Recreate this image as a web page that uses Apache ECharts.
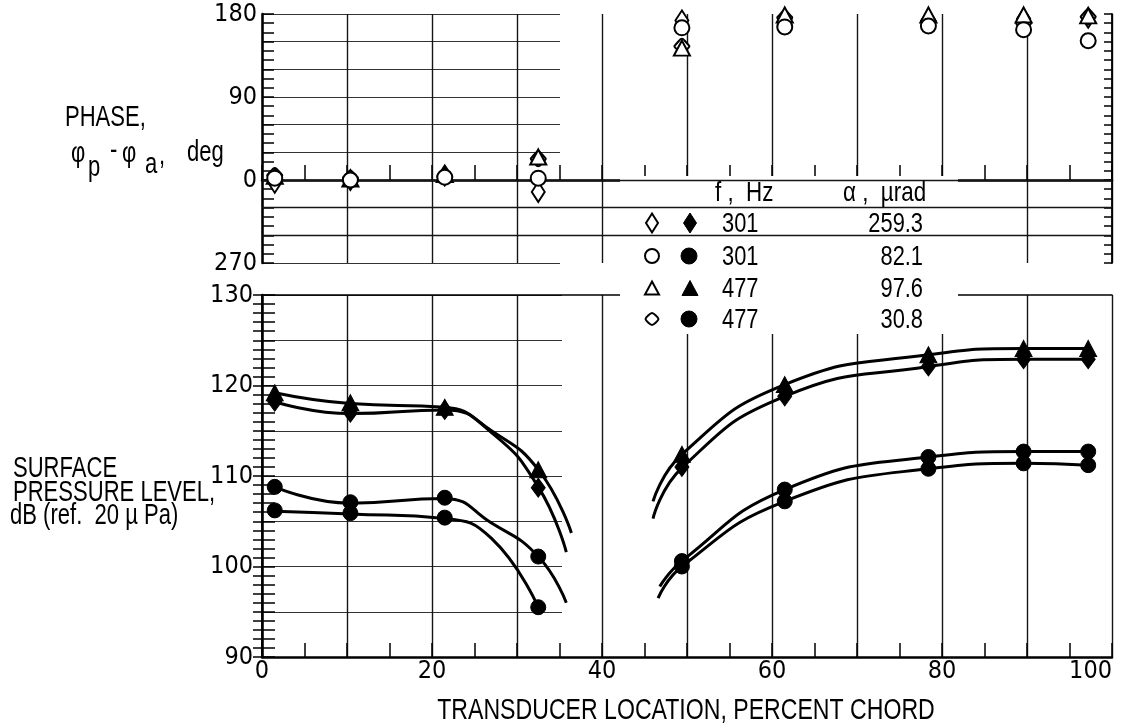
<!DOCTYPE html>
<html>
<head>
<meta charset="utf-8">
<script src="https://cdn.jsdelivr.net/npm/echarts@6/dist/echarts.min.js"></script>
<style>html,body{margin:0;padding:0;background:#fff}#c{width:1125px;height:727px}</style>
</head>
<body>
<div id="c"></div>
<script>
// ---------- data ----------
// transducer locations, percent chord
const stations = [1.5, 10.4, 21.5, 32.5, 49.4, 61.5, 78.4, 89.6, 97.2];

// phase, deg (open symbols)
const phase301a = [-3, 0, 5, -13, 173, 174, 174, 175, 176];   // 301 Hz, 259.3 urad (diamond)
const phase301b = [2, 0, 3, 2, 165, 166, 167, 163, 151];      // 301 Hz, 82.1 urad (circle)
const phase477a = [4, 1, 6, 25, 143, 179, 179, 179, 178];     // 477 Hz, 97.6 urad (triangle)
const phase477b = [5, 2, 4, 23, 145, 176, 172, 170, 177];     // 477 Hz, 30.8 urad (rounded diamond)

// surface pressure level, dB (filled symbols)
const level477a = [119.2, 118.1, 117.6, 110.7, 112.4, 120.1, 123.4, 124.1, 124.1];
const level301a = [118.2, 117.0, 117.3, 108.7, 111.0, 118.8, 122.1, 122.9, 122.9];
const level301b = [108.8, 107.1, 107.6, 101.1, 100.6, 108.5, 112.1, 112.7, 112.7];
const level477b = [106.2, 105.9, 105.4, 95.5, 100.0, 107.2, 110.8, 111.4, 111.2];

// faired curves
const fit477aLeft = [[1.5,119.2],[10.4,118.0],[21.5,117.6],[27,115.0],[32.5,110.7],[36.4,103.7]];
const fit301aLeft = [[1.5,118.2],[10.4,116.9],[21.5,117.3],[27,114.8],[32.5,108.8],[35.8,101.6]];
const fit301bLeft = [[1.5,108.8],[10.4,107.0],[21.5,107.5],[27,104.8],[32.5,101.1],[35.8,96.0]];
const fit477bLeft = [[1.5,106.1],[10.4,105.8],[21.5,105.3],[27,103.1],[32.5,95.5]];
const fit477aRight = [[46.0,107.2],[49.4,112.4],[61.5,120.1],[78.4,123.4],[89.6,124.1],[97.2,124.1]];
const fit301aRight = [[46.0,105.3],[49.4,110.9],[61.5,118.8],[78.4,122.1],[89.6,122.9],[97.2,122.9]];
const fit301bRight = [[46.8,97.8],[49.4,100.6],[61.5,108.5],[78.4,112.1],[89.6,112.7],[97.2,112.7]];
const fit477bRight = [[46.6,96.5],[49.4,100.0],[61.5,107.2],[78.4,110.8],[89.6,111.4],[97.2,111.2]];

// legend table
const legendFreq = ['301', '301', '477', '477'];
const legendAlpha = ['259.3', '82.1', '97.6', '30.8'];

// axis tick labels
const phaseLabelMap = {'-90': '270', '0': '0', '90': '90', '180': '180'};
const phaseFullLines = [0, -30, -60];

// ---------- chart ----------
const FONT = "'Liberation Sans Narrow','DejaVu Sans Condensed',sans-serif";
const TFONT = "'Liberation Sans',Arial,sans-serif";
const zip = (xs, ys) => xs.map((x, i) => [x, ys[i]]);
const ROUND_DIAMOND = 'path://M10,0C11.5,0 12.5,1 13.5,2.3L18.8,8.2C20.4,9.6 20.4,10.4 18.8,11.8L13.5,17.7C12.5,19 11.5,20 10,20C8.5,20 7.5,19 6.5,17.7L1.2,11.8C-0.4,10.4 -0.4,9.6 1.2,8.2L6.5,2.3C7.5,1 8.5,0 10,0Z';
const OPEN = {color: '#fff', borderColor: '#000', borderWidth: 2, opacity: 1};
const FILLED = {color: '#000', borderColor: '#000', borderWidth: 1, opacity: 1};
const GRID_C = '#151515';

const L = 262, R = 13;
const chart = echarts.init(document.getElementById('c'), null, {renderer: 'canvas'});

function scatter(name, xi, yi, data, symbol, size, style, z) {
  return {type: 'scatter', name, xAxisIndex: xi, yAxisIndex: yi, data, symbol, symbolSize: size,
          itemStyle: style, clip: false, z: z, silent: true};
}
function curve(data) {
  return {type: 'line', xAxisIndex: 1, yAxisIndex: 2, data, showSymbol: false, symbol: 'none',
          smooth: 0.5, lineStyle: {color: '#000', width: 3, opacity: 1}, z: 3, silent: true};
}

const axisLbl = {color: '#000', fontFamily: FONT, fontSize: 25};

const option = {
  animation: false,
  backgroundColor: '#fff',
  grid: [
    {left: L, right: R, top: 14, height: 249, outerBoundsMode: 'none'},
    {left: L, right: R, top: 295, height: 362, outerBoundsMode: 'none'},
    {left: L, width: 298, top: 14, height: 249, outerBoundsMode: 'none'},
    {left: L, width: 300, top: 295, height: 362, outerBoundsMode: 'none'}
  ],
  xAxis: [
    {gridIndex: 0, type: 'value', min: 0, max: 100, interval: 10, position: 'bottom',
     axisLine: {show: true, lineStyle: {color: '#000', width: 2.5}},
     axisTick: {show: true, inside: true, length: 15, lineStyle: {color: '#000', width: 1.5}},
     minorTick: {show: true, splitNumber: 2, length: 15, lineStyle: {color: '#000', width: 1.5}},
     axisLabel: {show: false},
     splitLine: {show: true, lineStyle: {color: GRID_C, width: 1.4}}},
    {gridIndex: 1, type: 'value', min: 0, max: 100, interval: 10, position: 'bottom',
     axisLine: {show: true, lineStyle: {color: '#000', width: 2.5}},
     axisTick: {show: true, inside: true, length: 14, lineStyle: {color: '#000', width: 1.5}},
     minorTick: {show: true, splitNumber: 2, length: 14, lineStyle: {color: '#000', width: 1.5}},
     axisLabel: Object.assign({}, axisLbl, {margin: 2, alignMaxLabel: 'right',
       formatter: v => (v % 20 === 0 ? String(v) : '')}),
     splitLine: {show: true, lineStyle: {color: GRID_C, width: 1.4}}},
    {gridIndex: 2, type: 'value', min: 0, max: 1, show: false},
    {gridIndex: 3, type: 'value', min: 0, max: 1, show: false},
    {gridIndex: 1, type: 'value', min: 0, max: 100, position: 'top',
     axisLine: {show: true, lineStyle: {color: '#000', width: 1.5}},
     axisTick: {show: false}, axisLabel: {show: false}, splitLine: {show: false}}
  ],
  yAxis: [
    {gridIndex: 0, type: 'value', min: -90, max: 180, interval: 30, position: 'left',
     axisLine: {show: true, lineStyle: {color: '#000', width: 2.5}},
     axisTick: {show: true, inside: true, length: 12, lineStyle: {color: '#000', width: 1.5}},
     minorTick: {show: true, splitNumber: 3, length: 12, lineStyle: {color: '#000', width: 1.5}},
     axisLabel: Object.assign({}, axisLbl, {margin: 5,
       formatter: v => (phaseLabelMap[String(v)] !== undefined ? phaseLabelMap[String(v)] : '')}),
     splitLine: {show: false}},
    {gridIndex: 0, type: 'value', min: -90, max: 180, interval: 30, position: 'right',
     axisLine: {show: true, lineStyle: {color: '#000', width: 1.8}},
     axisTick: {show: true, inside: true, length: 8, lineStyle: {color: '#000', width: 1.5}},
     minorTick: {show: true, splitNumber: 3, length: 8, lineStyle: {color: '#000', width: 1.5}},
     axisLabel: {show: false}, splitLine: {show: false}},
    {gridIndex: 1, type: 'value', min: 90, max: 130, interval: 5, position: 'left',
     axisLine: {show: true, lineStyle: {color: '#000', width: 2.5}},
     axisTick: {show: true, inside: true, length: 13, lineStyle: {color: '#000', width: 1.5}},
     minorTick: {show: true, splitNumber: 5, length: 13, lineStyle: {color: '#000', width: 1.5}},
     axisLabel: Object.assign({}, axisLbl, {margin: 9,
       formatter: v => (v % 10 === 0 ? String(v) : '')}),
     splitLine: {show: false}},
    {gridIndex: 1, type: 'value', min: 90, max: 130, interval: 5, position: 'right',
     axisLine: {show: true, lineStyle: {color: '#000', width: 1.8}},
     axisTick: {show: true, inside: true, length: 9, lineStyle: {color: '#000', width: 1.5}},
     minorTick: {show: true, splitNumber: 5, length: 9, lineStyle: {color: '#000', width: 1.5}},
     axisLabel: {show: false}, splitLine: {show: false}},
    {gridIndex: 2, type: 'value', min: -90, max: 180, interval: 30,
     axisLine: {show: false}, axisTick: {show: false}, axisLabel: {show: false},
     splitLine: {show: true, lineStyle: {color: '#333', width: 1.2}}},
    {gridIndex: 3, type: 'value', min: 90, max: 130, interval: 5,
     axisLine: {show: false}, axisTick: {show: false}, axisLabel: {show: false},
     splitLine: {show: true, lineStyle: {color: '#333', width: 1.2}}}
  ],
  series: [
    Object.assign(scatter('ph301a', 0, 0, zip(stations, phase301a), 'diamond', [13, 20], OPEN, 5), {
      markLine: {silent: true, symbol: 'none', label: {show: false},
                 lineStyle: {color: GRID_C, width: 1.3, type: 'solid', opacity: 1},
                 data: phaseFullLines.map(v => ({yAxis: v}))}
    }),
    scatter('ph477b', 0, 0, zip(stations, phase477b), ROUND_DIAMOND, 15, OPEN, 5),
    scatter('ph477a', 0, 0, zip(stations, phase477a), 'triangle', [16, 15], OPEN, 5),
    scatter('ph301b', 0, 0, zip(stations, phase301b), 'circle', 15, OPEN, 5),

    curve(fit477aLeft), curve(fit301aLeft), curve(fit301bLeft), curve(fit477bLeft),
    curve(fit477aRight), curve(fit301aRight), curve(fit301bRight), curve(fit477bRight),

    scatter('lv477a', 1, 2, zip(stations, level477a), 'triangle', [17, 16], FILLED, 6),
    scatter('lv301a', 1, 2, zip(stations, level301a), 'diamond', [14, 19], FILLED, 6),
    scatter('lv301b', 1, 2, zip(stations, level301b), 'circle', 15, FILLED, 6),
    scatter('lv477b', 1, 2, zip(stations, level477b), 'circle', 15, FILLED, 6)
  ],
  graphic: []
};

// ---- titles and legend table (text) ----
const G = option.graphic;
function txt(text, x, y, size, align, sx) {
  G.push({type: 'text', x: x, y: y, scaleX: sx || 0.76, z: 20, silent: true,
          style: {text: text, x: 0, y: 0, font: size + 'px ' + TFONT, fill: '#000',
                  textAlign: align || 'left', textVerticalAlign: 'middle'}});
}
// white patch under the legend
G.push({type: 'rect', shape: {x: 620, y: 176, width: 338, height: 158}, style: {fill: '#fff'}, z: 1, silent: true});

txt('PHASE,', 65, 118, 29);
txt('\u03c6', 71, 154, 29);
txt('p', 88, 168, 29);
txt('-', 110, 151, 29);
txt('\u03c6', 122, 154, 29);
txt('a', 145, 165, 29);
txt(',', 159, 156, 29);
txt('deg', 187, 153, 29);

txt('SURFACE', 13, 469, 29);
txt('PRESSURE LEVEL,', 13, 493, 29);
txt('dB (ref.  20 \u00b5 Pa)', 10, 516, 29);

txt('TRANSDUCER LOCATION, PERCENT CHORD', 686, 711, 30, 'center', 0.77);

txt('f ,  Hz', 715, 193, 28, 'left', 0.8);
txt('\u03b1 ,  \u00b5rad', 843, 193, 28, 'left', 0.8);
const rowY = [224, 257, 289, 320];
legendFreq.forEach((f, i) => { txt(f, 722, rowY[i], 28, 'left', 0.78); txt(legendAlpha[i], 923, rowY[i], 28, 'right', 0.78); });

function diamondPts(cx, cy, w, h) { return [[cx, cy - h / 2], [cx + w / 2, cy], [cx, cy + h / 2], [cx - w / 2, cy]]; }
function triPts(cx, cy, w, h) { return [[cx, cy - h / 2], [cx + w / 2, cy + h / 2], [cx - w / 2, cy + h / 2]]; }
const OS = {fill: '#fff', stroke: '#000', lineWidth: 2};
const FS = {fill: '#000', stroke: '#000', lineWidth: 1};
const sy = rowY.map(y => y - 1);
G.push({type: 'polygon', z: 20, shape: {points: diamondPts(652, sy[0], 12, 19)}, style: OS});
G.push({type: 'polygon', z: 20, shape: {points: diamondPts(690, sy[0], 13, 20)}, style: FS});
G.push({type: 'circle', z: 20, shape: {cx: 652, cy: sy[1], r: 7}, style: OS});
G.push({type: 'circle', z: 20, shape: {cx: 689, cy: sy[1], r: 8}, style: FS});
G.push({type: 'polygon', z: 20, shape: {points: triPts(652, sy[2], 14, 13)}, style: OS});
G.push({type: 'polygon', z: 20, shape: {points: triPts(690, sy[2], 16, 15)}, style: FS});
G.push({type: 'polygon', z: 20, shape: {points: diamondPts(652, sy[3], 13, 12), smooth: 0.25}, style: OS});
G.push({type: 'circle', z: 20, shape: {cx: 689, cy: sy[3], r: 8}, style: FS});

chart.setOption(option);
</script>
</body>
</html>
